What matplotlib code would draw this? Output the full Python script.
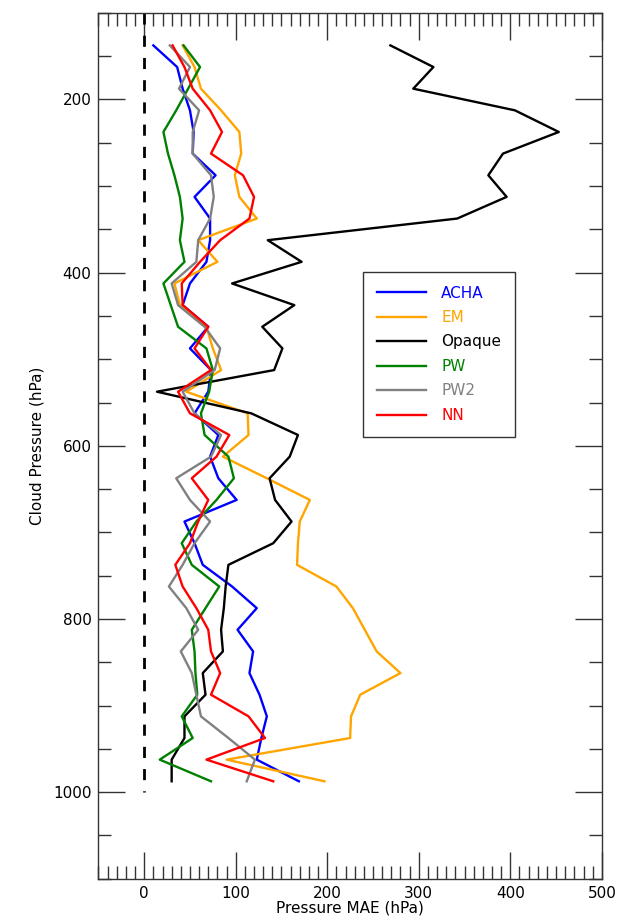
import numpy as np
import matplotlib
matplotlib.use('Agg')
import matplotlib.pyplot as plt
from matplotlib.ticker import MultipleLocator

# pressure levels (hPa)
levels = [137.5, 162.5, 187.5, 212.5, 237.5, 262.5, 287.5, 312.5, 337.5, 362.5,
          387.5, 412.5, 437.5, 462.5, 487.5, 512.5, 537.5, 562.5, 587.5, 612.5,
          637.5, 662.5, 687.5, 712.5, 737.5, 762.5, 787.5, 812.5, 837.5, 862.5,
          887.5, 912.5, 937.5, 962.5, 987.5]

acha = [10, 36, 42, 50, 54, 53, 78, 55, 72, 72, 68, 50, 42, 70, 50, 73, 70, 55,
        81, 72, 81, 101, 44, 55, 64, 96, 123, 102, 119, 115, 126, 134, 128, 123, 169]
em = [42, 55, 62, 84, 104, 106, 99, 104, 123, 59, 80, 33, 39, 68, 75, 84, 46, 113,
      114, 86, 134, 181, 170, 168, 167, 210, 228, 241, 254, 280, 236, 226, 225, 90, 197]
opaque = [269, 316, 294, 405, 453, 392, 376, 396, 342, 135, 172, 96, 164, 129, 151,
          142, 14, 117, 168, 159, 137, 143, 161, 141, 92, 89, 87, 84, 86, 64, 67,
          44, 44, 30, 30]
pw = [43, 61, 48, 35, 21, 26, 33, 39, 42, 39, 44, 21, 29, 37, 68, 75, 71, 62, 66,
      92, 98, 79, 57, 41, 52, 82, 67, 52, 55, 56, 58, 41, 53, 17, 73]
pw2 = [28, 50, 38, 60, 53, 53, 73, 76, 72, 59, 57, 30, 37, 66, 83, 77, 42, 55, 84,
       73, 35, 50, 72, 55, 42, 27, 46, 59, 40, 52, 57, 62, 92, 121, 112]
nn = [31, 44, 53, 72, 85, 73, 108, 120, 115, 83, 61, 41, 42, 70, 55, 73, 37, 50,
      93, 79, 52, 70, 59, 50, 34, 42, 57, 70, 73, 83, 73, 114, 132, 68, 141]

names = ['ACHA', 'EM', 'Opaque', 'PW', 'PW2', 'NN']
series = [acha, em, opaque, pw, pw2, nn]
colors = ['blue', 'orange', 'black', 'green', 'gray', 'red']

fig = plt.figure(figsize=(6.23, 9.23), dpi=100)
ax = fig.add_axes([0.158, 0.048, 0.808, 0.938])

ax.plot([0, 0], [100, 1000], 'k--', lw=2, dashes=(4, 4))
for name, vals, c in zip(names, series, colors):
    ax.plot(vals, levels, color=c, lw=1.7, label=name)

ax.set_xlim(-50, 500)
ax.set_ylim(1100, 100)
ax.xaxis.set_major_locator(MultipleLocator(100))
ax.xaxis.set_minor_locator(MultipleLocator(10))
ax.yaxis.set_major_locator(MultipleLocator(200))
ax.yaxis.set_minor_locator(MultipleLocator(50))
ax.tick_params(which='both', direction='in', top=True, right=True, labelsize=11,
               color='#333333', width=1)
ax.tick_params(which='major', length=19.5, pad=5)
ax.tick_params(which='minor', length=9.7)
for s in ax.spines.values():
    s.set_linewidth(1)
    s.set_color('#333333')

ax.set_xlabel('Pressure MAE (hPa)', fontsize=11, labelpad=0)
ax.set_ylabel('Cloud Pressure (hPa)', fontsize=11, labelpad=6)

leg = ax.legend(loc='upper left', bbox_to_anchor=(0.526, 0.701), fontsize=11,
                frameon=True, fancybox=False, framealpha=1, edgecolor='#333333',
                handlelength=3.2, handletextpad=1.0, labelspacing=0.62,
                borderpad=0.9, borderaxespad=0)
leg.get_frame().set_linewidth(1)
for t, c in zip(leg.get_texts(), colors):
    t.set_color(c)

fig.savefig('out.png', dpi=100)
